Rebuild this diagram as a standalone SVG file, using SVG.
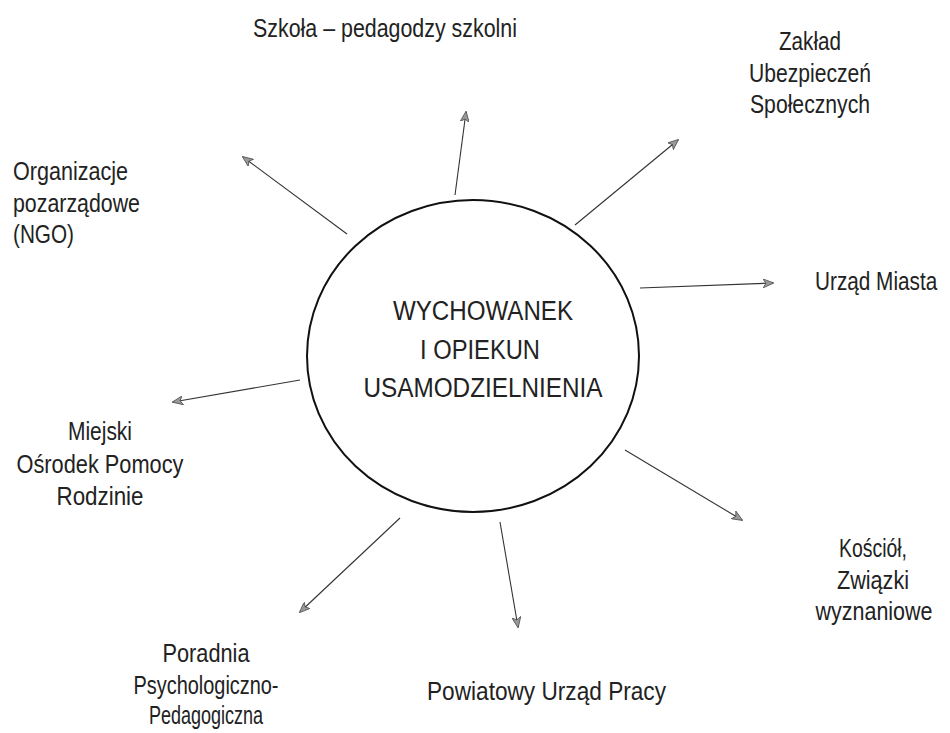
<svg xmlns="http://www.w3.org/2000/svg" width="950" height="733" viewBox="0 0 950 733">
<defs>
<marker id="ah" viewBox="0 0 12 10" refX="11" refY="5" markerWidth="11" markerHeight="9" markerUnits="userSpaceOnUse" orient="auto">
<path d="M0,0 L12,5 L0,10 L3,5 Z" fill="#999" stroke="#444" stroke-width="0.8"/>
</marker>
<style>
.t{font-family:"Liberation Sans",Arial,sans-serif;font-size:25px;fill:#222}
.c{font-family:"Liberation Sans",Arial,sans-serif;font-size:27px;fill:#222}
.m{text-anchor:middle}
.ln{stroke:#333;stroke-width:1.1;fill:none;marker-end:url(#ah)}
</style>
</defs>
<rect width="950" height="733" fill="#fff"/>
<g id="center">
<ellipse cx="473" cy="356" rx="166" ry="156" fill="none" stroke="#111" stroke-width="2"/>
<text class="c m" x="483" y="320" textLength="180" lengthAdjust="spacingAndGlyphs">WYCHOWANEK</text>
<text class="c m" x="480" y="359" textLength="120" lengthAdjust="spacingAndGlyphs">I OPIEKUN</text>
<text class="c m" x="483" y="397" textLength="239" lengthAdjust="spacingAndGlyphs">USAMODZIELNIENIA</text>
</g>
<g id="connectors">
<line class="ln" x1="455" y1="195" x2="466" y2="112"/>
<line class="ln" x1="347" y1="234" x2="243" y2="157"/>
<line class="ln" x1="575" y1="225" x2="678" y2="140"/>
<line class="ln" x1="640" y1="288" x2="773" y2="283"/>
<line class="ln" x1="300" y1="380" x2="173" y2="402"/>
<line class="ln" x1="625" y1="450" x2="742" y2="520"/>
<line class="ln" x1="400" y1="518" x2="300" y2="612"/>
<line class="ln" x1="500" y1="522" x2="518" y2="627"/>
</g>
<g id="szkola"><text class="t m" x="385" y="37" textLength="264" lengthAdjust="spacingAndGlyphs">Szkoła – pedagodzy szkolni</text></g>
<g id="zus">
<text class="t m" x="810" y="50" textLength="62" lengthAdjust="spacingAndGlyphs">Zakład</text>
<text class="t m" x="810" y="82" textLength="122" lengthAdjust="spacingAndGlyphs">Ubezpieczeń</text>
<text class="t m" x="810" y="113" textLength="120" lengthAdjust="spacingAndGlyphs">Społecznych</text>
</g>
<g id="urzad-miasta"><text class="t" transform="translate(815,290) scale(0.83,1)">Urząd Miasta</text></g>
<g id="ngo">
<text class="t" x="13" y="180" textLength="115" lengthAdjust="spacingAndGlyphs">Organizacje</text>
<text class="t" x="13" y="212" textLength="127" lengthAdjust="spacingAndGlyphs">pozarządowe</text>
<text class="t" x="13" y="243" textLength="61" lengthAdjust="spacingAndGlyphs">(NGO)</text>
</g>
<g id="mopr">
<text class="t m" x="100" y="440" textLength="64" lengthAdjust="spacingAndGlyphs">Miejski</text>
<text class="t m" x="100" y="473" textLength="167" lengthAdjust="spacingAndGlyphs">Ośrodek Pomocy</text>
<text class="t m" x="100" y="505" textLength="87" lengthAdjust="spacingAndGlyphs">Rodzinie</text>
</g>
<g id="poradnia">
<text class="t m" x="206" y="662" textLength="87" lengthAdjust="spacingAndGlyphs">Poradnia</text>
<text class="t m" x="206" y="694" textLength="145" lengthAdjust="spacingAndGlyphs">Psychologiczno-</text>
<text class="t m" x="206" y="724" textLength="114" lengthAdjust="spacingAndGlyphs">Pedagogiczna</text>
</g>
<g id="pup"><text class="t" x="427" y="700" textLength="239" lengthAdjust="spacingAndGlyphs">Powiatowy Urząd Pracy</text></g>
<g id="kosciol">
<text class="t m" x="873" y="557" textLength="68" lengthAdjust="spacingAndGlyphs">Kościół,</text>
<text class="t m" x="873" y="589" textLength="72" lengthAdjust="spacingAndGlyphs">Związki</text>
<text class="t m" transform="translate(874,620) scale(0.86,1)">wyznaniowe</text>
</g>
</svg>
